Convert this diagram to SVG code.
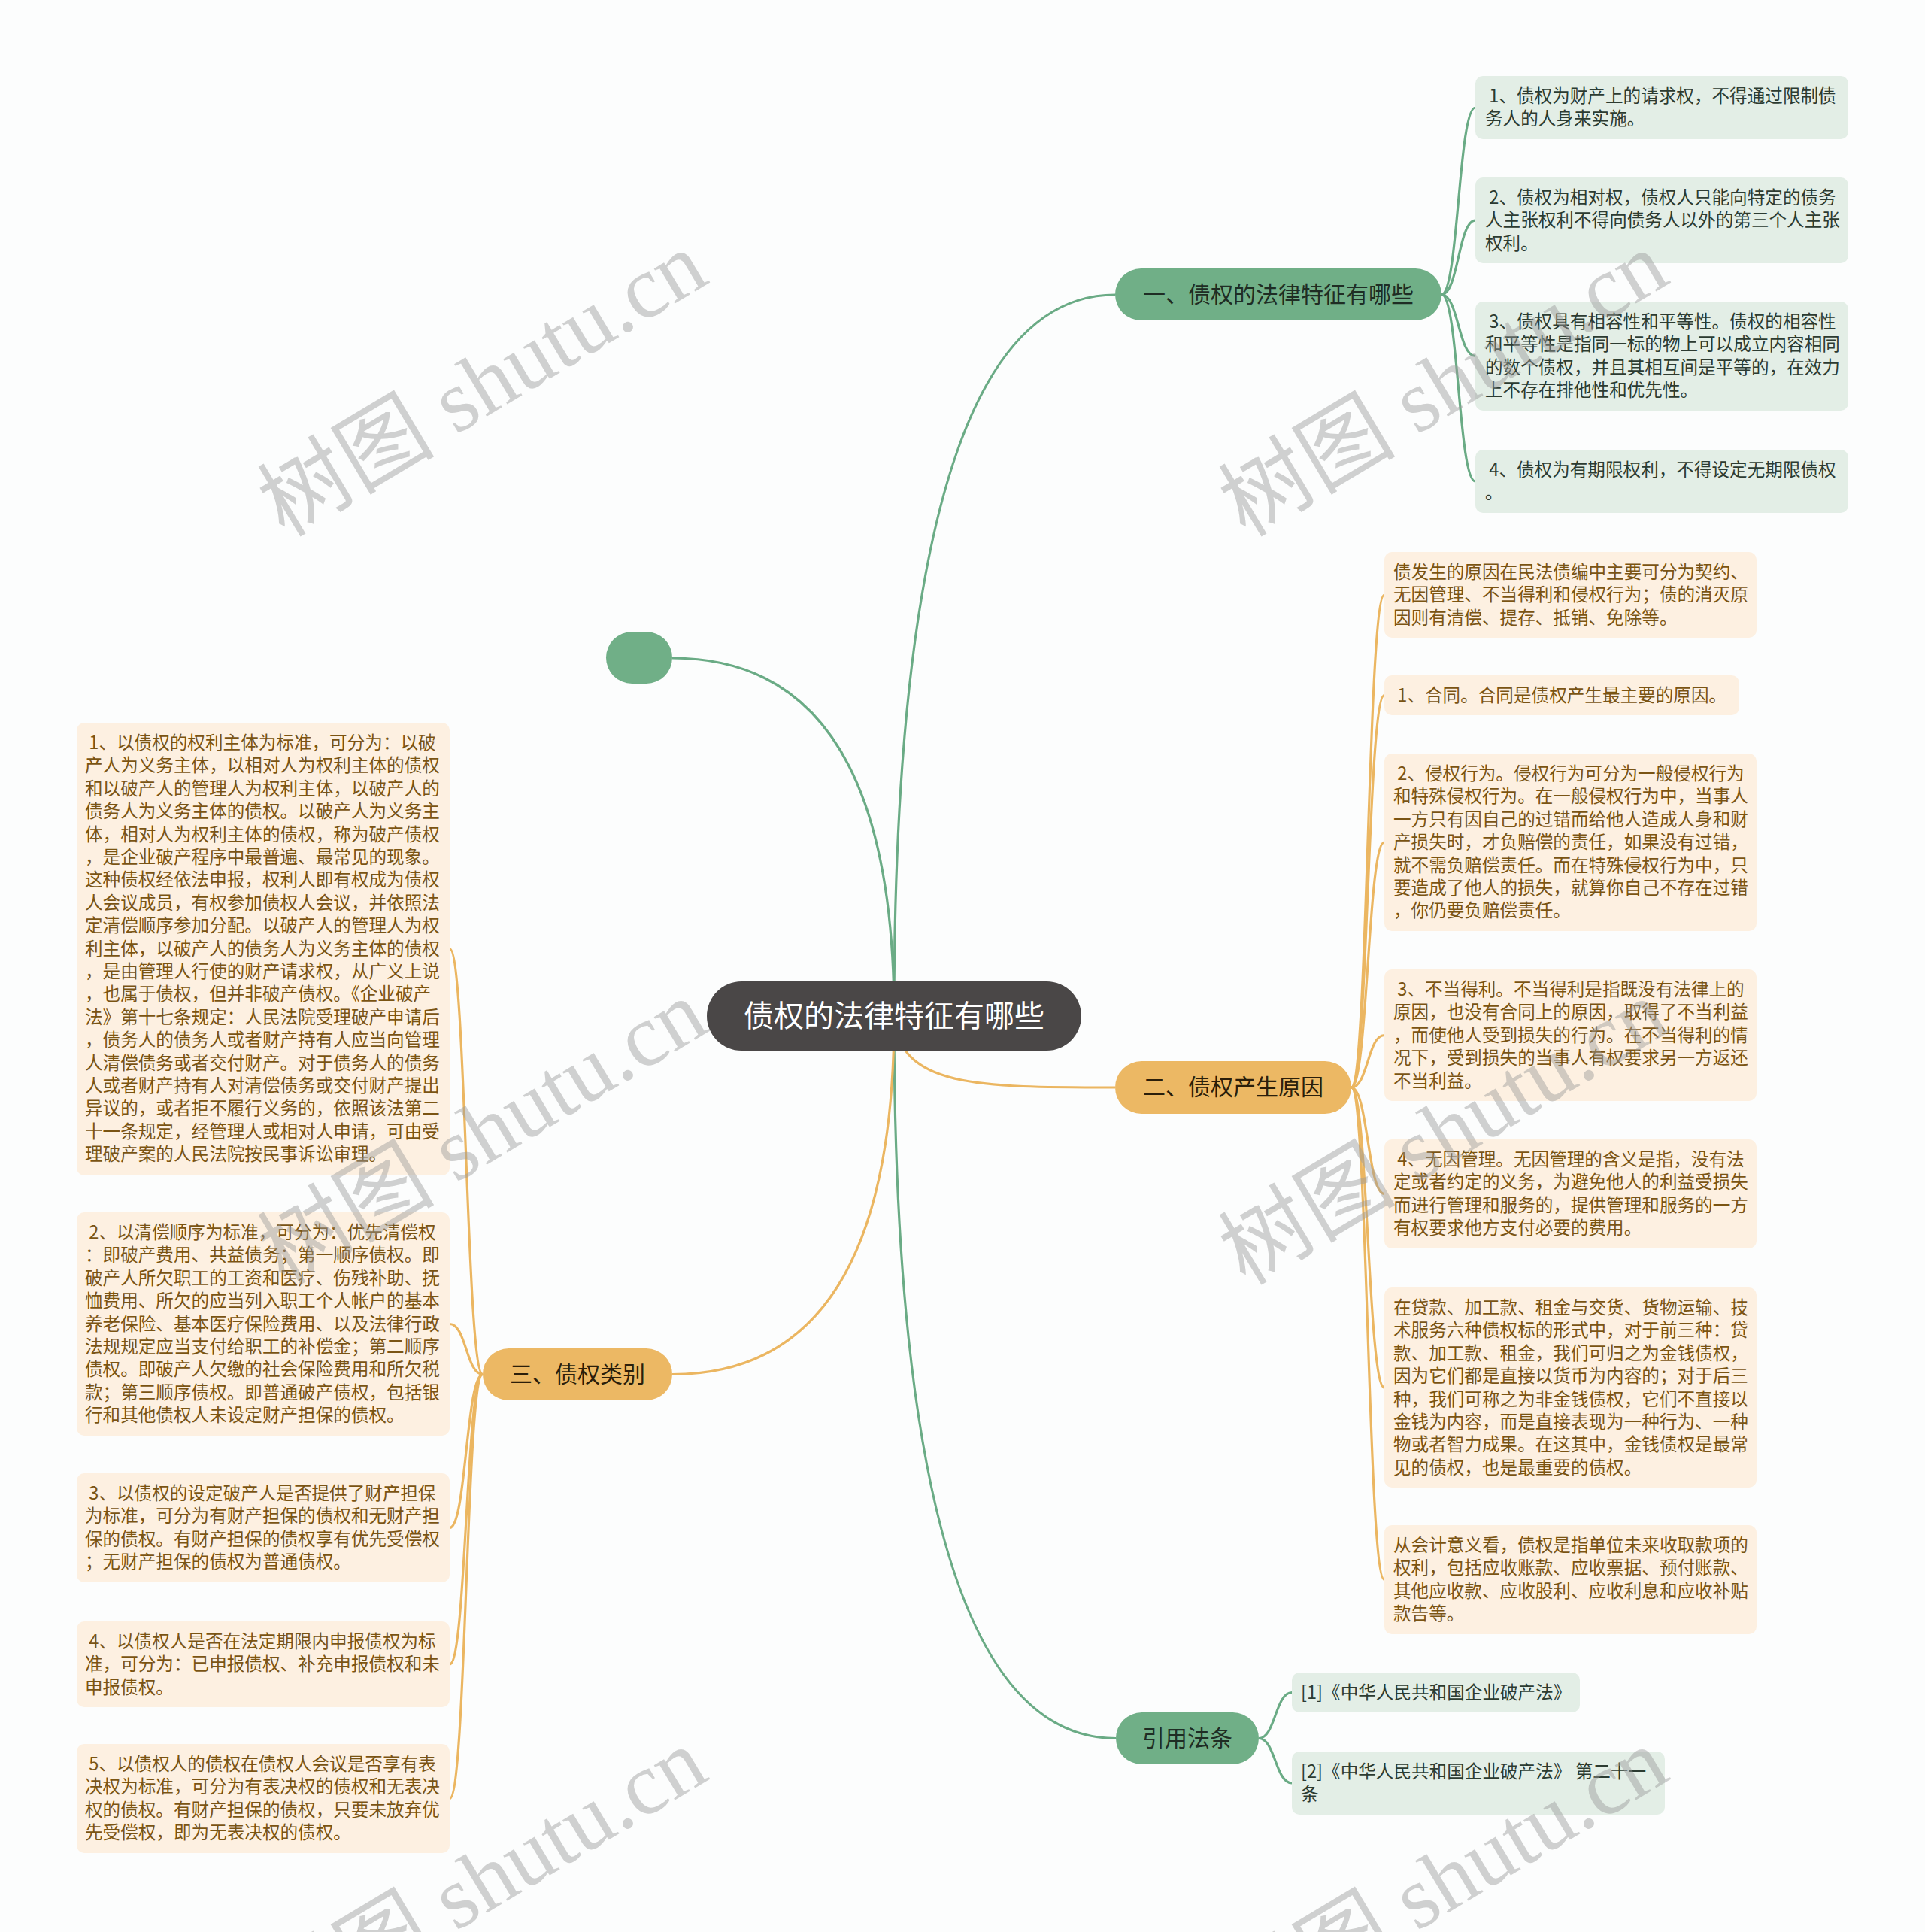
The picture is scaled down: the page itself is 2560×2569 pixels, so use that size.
<svg xmlns="http://www.w3.org/2000/svg" width="2560" height="2569" viewBox="0 0 2560 2569">
<style>
.gl{fill:none;stroke:#6aab85;stroke-width:3.2}
.ol{fill:none;stroke:#ebb661;stroke-width:3.2}
.gbox{fill:#e3eee6}
.obox{fill:#fdf0e1}
.t{font-family:"Noto Sans CJK SC","Liberation Sans",sans-serif;font-size:23.6px}
.gt{fill:#2c3b31}
.ot{fill:#7a5413}
.nt{font-family:"Noto Sans CJK SC","Liberation Sans",sans-serif;font-size:30px;text-anchor:middle}
.wm{font-family:"Liberation Serif","Noto Sans CJK SC",serif;font-size:118px;fill:#9a9a9a;opacity:0.45;text-anchor:middle}
</style>
<rect x="0" y="0" width="2560" height="2569" fill="#fcfdfd"/>

<g id="connectors">
<path class="gl" d="M1189 1351 Q1189 392 1483 392"/>
<path class="gl" d="M1189 1351 Q1189 875 894 875"/>
<path class="gl" d="M1189 1351 Q1189 2311.5 1484 2311.5"/>
<path class="ol" d="M1189 1351 C1195 1446 1300 1446 1483 1446"/>
<path class="ol" d="M1189 1351 Q1189 1827.5 894 1827.5"/>
<path class="gl" d="M1917 391.5 C1939.5 391.5 1939.5 143 1962 143"/>
<path class="gl" d="M1917 391.5 C1939.5 391.5 1939.5 293 1962 293"/>
<path class="gl" d="M1917 391.5 C1939.5 391.5 1939.5 473.5 1962 473.5"/>
<path class="gl" d="M1917 391.5 C1939.5 391.5 1939.5 640 1962 640"/>
<path class="ol" d="M1797 1446 C1819 1446 1819 791 1841 791"/>
<path class="ol" d="M1797 1446 C1819 1446 1819 924.5 1841 924.5"/>
<path class="ol" d="M1797 1446 C1819 1446 1819 1120 1841 1120"/>
<path class="ol" d="M1797 1446 C1819 1446 1819 1376.5 1841 1376.5"/>
<path class="ol" d="M1797 1446 C1819 1446 1819 1587.5 1841 1587.5"/>
<path class="ol" d="M1797 1446 C1819 1446 1819 1845 1841 1845"/>
<path class="ol" d="M1797 1446 C1819 1446 1819 2100.5 1841 2100.5"/>
<path class="ol" d="M642 1827.5 C620 1827.5 620 1261.5 598 1261.5"/>
<path class="ol" d="M642 1827.5 C620 1827.5 620 1760.5 598 1760.5"/>
<path class="ol" d="M642 1827.5 C620 1827.5 620 2031.5 598 2031.5"/>
<path class="ol" d="M642 1827.5 C620 1827.5 620 2213 598 2213"/>
<path class="ol" d="M642 1827.5 C620 1827.5 620 2391.5 598 2391.5"/>
<path class="gl" d="M1674 2311.5 C1696 2311.5 1696 2250.5 1718 2250.5"/>
<path class="gl" d="M1674 2311.5 C1696 2311.5 1696 2371 1718 2371"/>
</g>

<g id="root">
<rect x="940" y="1305" width="498" height="92" rx="46" fill="#4a4747"/>
<text x="1189" y="1365" font-family="Noto Sans CJK SC, Liberation Sans, sans-serif" font-size="40" fill="#ffffff" text-anchor="middle">债权的法律特征有哪些</text>
</g>

<g id="empty-node">
<rect x="806" y="840" width="88" height="69" rx="34.5" fill="#70af87"/>
</g>

<g id="branch1">
<rect x="1483" y="357" width="434" height="69" rx="34.5" fill="#70af87"/>
<text class="nt" x="1700" y="402" fill="#1f2d24">一、债权的法律特征有哪些</text>
</g>

<g id="branch2">
<rect x="1483" y="1411" width="314" height="70" rx="35" fill="#ecb864"/>
<text class="nt" x="1640" y="1456" fill="#2b1e0a">二、债权产生原因</text>
</g>

<g id="branch3">
<rect x="642" y="1793" width="252" height="69" rx="34.5" fill="#ecb864"/>
<text class="nt" x="768" y="1838" fill="#2b1e0a">三、债权类别</text>
</g>

<g id="branch4">
<rect x="1484" y="2277" width="190" height="69" rx="34.5" fill="#70af87"/>
<text class="nt" x="1579" y="2322" fill="#1f2d24">引用法条</text>
</g>

<g id="c1">
<rect class="gbox" x="1962" y="101" width="496" height="84" rx="10"/>
<text class="t gt" y="136"><tspan x="1975">&#160;1、债权为财产上的请求权，不得通过限制债</tspan><tspan x="1975" dy="30.4">务人的人身来实施。</tspan></text>
</g>
<g id="c2">
<rect class="gbox" x="1962" y="236" width="496" height="114" rx="10"/>
<text class="t gt" y="271"><tspan x="1975">&#160;2、债权为相对权，债权人只能向特定的债务</tspan><tspan x="1975" dy="30.4">人主张权利不得向债务人以外的第三个人主张</tspan><tspan x="1975" dy="30.4">权利。</tspan></text>
</g>
<g id="c3">
<rect class="gbox" x="1962" y="401" width="496" height="145" rx="10"/>
<text class="t gt" y="436"><tspan x="1975">&#160;3、债权具有相容性和平等性。债权的相容性</tspan><tspan x="1975" dy="30.4">和平等性是指同一标的物上可以成立内容相同</tspan><tspan x="1975" dy="30.4">的数个债权，并且其相互间是平等的，在效力</tspan><tspan x="1975" dy="30.4">上不存在排他性和优先性。</tspan></text>
</g>
<g id="c4">
<rect class="gbox" x="1962" y="598" width="496" height="84" rx="10"/>
<text class="t gt" y="633"><tspan x="1975">&#160;4、债权为有期限权利，不得设定无期限债权</tspan><tspan x="1975" dy="30.4">。</tspan></text>
</g>

<g id="d0">
<rect class="obox" x="1841" y="734" width="495" height="114" rx="10"/>
<text class="t ot" y="769"><tspan x="1853">债发生的原因在民法债编中主要可分为契约、</tspan><tspan x="1853" dy="30.4">无因管理、不当得利和侵权行为；债的消灭原</tspan><tspan x="1853" dy="30.4">因则有清偿、提存、抵销、免除等。</tspan></text>
</g>
<g id="d1">
<rect class="obox" x="1841" y="898" width="472" height="53" rx="10"/>
<text class="t ot" y="933"><tspan x="1853">&#160;1、合同。合同是债权产生最主要的原因。</tspan></text>
</g>
<g id="d2">
<rect class="obox" x="1841" y="1002" width="495" height="236" rx="10"/>
<text class="t ot" y="1037"><tspan x="1853">&#160;2、侵权行为。侵权行为可分为一般侵权行为</tspan><tspan x="1853" dy="30.4">和特殊侵权行为。在一般侵权行为中，当事人</tspan><tspan x="1853" dy="30.4">一方只有因自己的过错而给他人造成人身和财</tspan><tspan x="1853" dy="30.4">产损失时，才负赔偿的责任，如果没有过错，</tspan><tspan x="1853" dy="30.4">就不需负赔偿责任。而在特殊侵权行为中，只</tspan><tspan x="1853" dy="30.4">要造成了他人的损失，就算你自己不存在过错</tspan><tspan x="1853" dy="30.4">，你仍要负赔偿责任。</tspan></text>
</g>
<g id="d3">
<rect class="obox" x="1841" y="1289" width="495" height="175" rx="10"/>
<text class="t ot" y="1324"><tspan x="1853">&#160;3、不当得利。不当得利是指既没有法律上的</tspan><tspan x="1853" dy="30.4">原因，也没有合同上的原因，取得了不当利益</tspan><tspan x="1853" dy="30.4">，而使他人受到损失的行为。在不当得利的情</tspan><tspan x="1853" dy="30.4">况下，受到损失的当事人有权要求另一方返还</tspan><tspan x="1853" dy="30.4">不当利益。</tspan></text>
</g>
<g id="d4">
<rect class="obox" x="1841" y="1515" width="495" height="145" rx="10"/>
<text class="t ot" y="1550"><tspan x="1853">&#160;4、无因管理。无因管理的含义是指，没有法</tspan><tspan x="1853" dy="30.4">定或者约定的义务，为避免他人的利益受损失</tspan><tspan x="1853" dy="30.4">而进行管理和服务的，提供管理和服务的一方</tspan><tspan x="1853" dy="30.4">有权要求他方支付必要的费用。</tspan></text>
</g>
<g id="d5">
<rect class="obox" x="1841" y="1712" width="495" height="266" rx="10"/>
<text class="t ot" y="1747"><tspan x="1853">在贷款、加工款、租金与交货、货物运输、技</tspan><tspan x="1853" dy="30.4">术服务六种债权标的形式中，对于前三种：贷</tspan><tspan x="1853" dy="30.4">款、加工款、租金，我们可归之为金钱债权，</tspan><tspan x="1853" dy="30.4">因为它们都是直接以货币为内容的；对于后三</tspan><tspan x="1853" dy="30.4">种，我们可称之为非金钱债权，它们不直接以</tspan><tspan x="1853" dy="30.4">金钱为内容，而是直接表现为一种行为、一种</tspan><tspan x="1853" dy="30.4">物或者智力成果。在这其中，金钱债权是最常</tspan><tspan x="1853" dy="30.4">见的债权，也是最重要的债权。</tspan></text>
</g>
<g id="d6">
<rect class="obox" x="1841" y="2028" width="495" height="145" rx="10"/>
<text class="t ot" y="2063"><tspan x="1853">从会计意义看，债权是指单位未来收取款项的</tspan><tspan x="1853" dy="30.4">权利，包括应收账款、应收票据、预付账款、</tspan><tspan x="1853" dy="30.4">其他应收款、应收股利、应收利息和应收补贴</tspan><tspan x="1853" dy="30.4">款告等。</tspan></text>
</g>

<g id="e1">
<rect class="obox" x="102" y="961" width="496" height="602" rx="10"/>
<text class="t ot" y="996"><tspan x="113">&#160;1、以债权的权利主体为标准，可分为：以破</tspan><tspan x="113" dy="30.4">产人为义务主体，以相对人为权利主体的债权</tspan><tspan x="113" dy="30.4">和以破产人的管理人为权利主体，以破产人的</tspan><tspan x="113" dy="30.4">债务人为义务主体的债权。以破产人为义务主</tspan><tspan x="113" dy="30.4">体，相对人为权利主体的债权，称为破产债权</tspan><tspan x="113" dy="30.4">，是企业破产程序中最普遍、最常见的现象。</tspan><tspan x="113" dy="30.4">这种债权经依法申报，权利人即有权成为债权</tspan><tspan x="113" dy="30.4">人会议成员，有权参加债权人会议，并依照法</tspan><tspan x="113" dy="30.4">定清偿顺序参加分配。以破产人的管理人为权</tspan><tspan x="113" dy="30.4">利主体，以破产人的债务人为义务主体的债权</tspan><tspan x="113" dy="30.4">，是由管理人行使的财产请求权，从广义上说</tspan><tspan x="113" dy="30.4">，也属于债权，但并非破产债权。《企业破产</tspan><tspan x="113" dy="30.4">法》第十七条规定：人民法院受理破产申请后</tspan><tspan x="113" dy="30.4">，债务人的债务人或者财产持有人应当向管理</tspan><tspan x="113" dy="30.4">人清偿债务或者交付财产。对于债务人的债务</tspan><tspan x="113" dy="30.4">人或者财产持有人对清偿债务或交付财产提出</tspan><tspan x="113" dy="30.4">异议的，或者拒不履行义务的，依照该法第二</tspan><tspan x="113" dy="30.4">十一条规定，经管理人或相对人申请，可由受</tspan><tspan x="113" dy="30.4">理破产案的人民法院按民事诉讼审理。</tspan></text>
</g>
<g id="e2">
<rect class="obox" x="102" y="1612" width="496" height="297" rx="10"/>
<text class="t ot" y="1647"><tspan x="113">&#160;2、以清偿顺序为标准，可分为：优先清偿权</tspan><tspan x="113" dy="30.4">：即破产费用、共益债务；第一顺序债权。即</tspan><tspan x="113" dy="30.4">破产人所欠职工的工资和医疗、伤残补助、抚</tspan><tspan x="113" dy="30.4">恤费用、所欠的应当列入职工个人帐户的基本</tspan><tspan x="113" dy="30.4">养老保险、基本医疗保险费用、以及法律行政</tspan><tspan x="113" dy="30.4">法规规定应当支付给职工的补偿金；第二顺序</tspan><tspan x="113" dy="30.4">债权。即破产人欠缴的社会保险费用和所欠税</tspan><tspan x="113" dy="30.4">款；第三顺序债权。即普通破产债权，包括银</tspan><tspan x="113" dy="30.4">行和其他债权人未设定财产担保的债权。</tspan></text>
</g>
<g id="e3">
<rect class="obox" x="102" y="1959" width="496" height="145" rx="10"/>
<text class="t ot" y="1994"><tspan x="113">&#160;3、以债权的设定破产人是否提供了财产担保</tspan><tspan x="113" dy="30.4">为标准，可分为有财产担保的债权和无财产担</tspan><tspan x="113" dy="30.4">保的债权。有财产担保的债权享有优先受偿权</tspan><tspan x="113" dy="30.4">；无财产担保的债权为普通债权。</tspan></text>
</g>
<g id="e4">
<rect class="obox" x="102" y="2156" width="496" height="114" rx="10"/>
<text class="t ot" y="2191"><tspan x="113">&#160;4、以债权人是否在法定期限内申报债权为标</tspan><tspan x="113" dy="30.4">准，可分为：已申报债权、补充申报债权和未</tspan><tspan x="113" dy="30.4">申报债权。</tspan></text>
</g>
<g id="e5">
<rect class="obox" x="102" y="2319" width="496" height="145" rx="10"/>
<text class="t ot" y="2354"><tspan x="113">&#160;5、以债权人的债权在债权人会议是否享有表</tspan><tspan x="113" dy="30.4">决权为标准，可分为有表决权的债权和无表决</tspan><tspan x="113" dy="30.4">权的债权。有财产担保的债权，只要未放弃优</tspan><tspan x="113" dy="30.4">先受偿权，即为无表决权的债权。</tspan></text>
</g>

<g id="f1">
<rect class="gbox" x="1718" y="2224" width="383" height="53" rx="10"/>
<text class="t gt" y="2259"><tspan x="1730">[1]《中华人民共和国企业破产法》</tspan></text>
</g>
<g id="f2">
<rect class="gbox" x="1718" y="2329" width="496" height="84" rx="10"/>
<text class="t gt" y="2364"><tspan x="1730">[2]《中华人民共和国企业破产法》 第二十一</tspan><tspan x="1730" dy="30.4">条</tspan></text>
</g>

<g id="watermarks">
<text class="wm" x="662" y="545" transform="rotate(-31 662 545)">树图 shutu.cn</text>
<text class="wm" x="1940" y="545" transform="rotate(-31 1940 545)">树图 shutu.cn</text>
<text class="wm" x="662" y="1540" transform="rotate(-31 662 1540)">树图 shutu.cn</text>
<text class="wm" x="1940" y="1540" transform="rotate(-31 1940 1540)">树图 shutu.cn</text>
<text class="wm" x="662" y="2535" transform="rotate(-31 662 2535)">树图 shutu.cn</text>
<text class="wm" x="1940" y="2535" transform="rotate(-31 1940 2535)">树图 shutu.cn</text>
</g>
</svg>
